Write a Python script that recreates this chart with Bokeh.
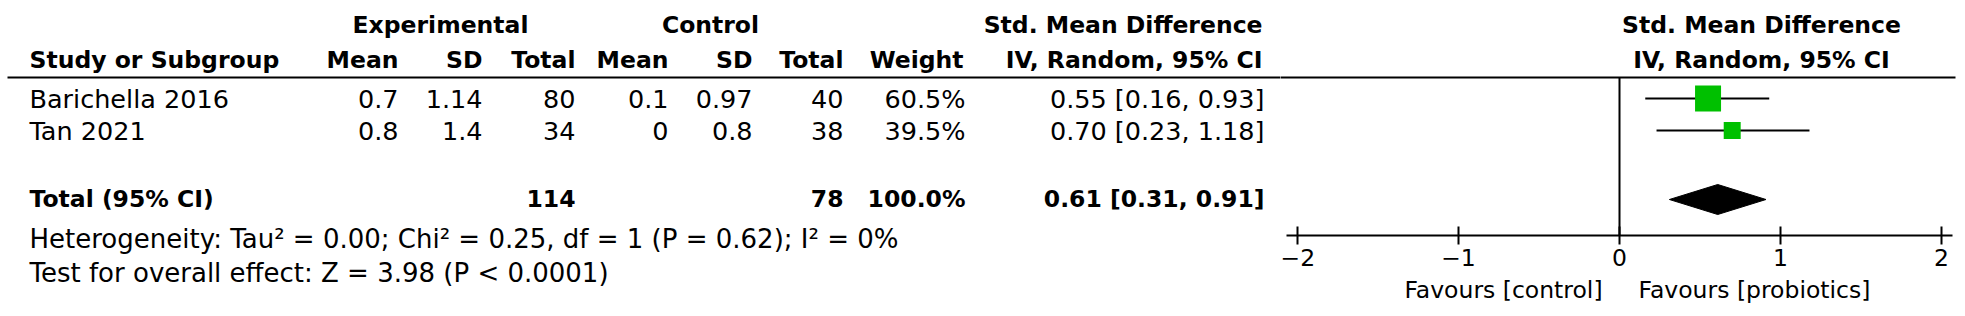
from bokeh.plotting import figure
from bokeh.layouts import row
from bokeh.models import Range1d, LinearAxis, FixedTicker, ColumnDataSource
from bokeh.embed import file_html
from bokeh.resources import INLINE
from bokeh.core.properties import value

# ---------------- data ----------------
studies = ["Barichella 2016", "Tan 2021"]
exp_mean = [0.7, 0.8]
exp_sd = [1.14, 1.4]
exp_n = [80, 34]
ctl_mean = [0.1, 0]
ctl_sd = [0.97, 0.8]
ctl_n = [40, 38]
weight = [60.5, 39.5]
smd = [0.55, 0.70]
smd_lo = [0.16, 0.23]
smd_hi = [0.93, 1.18]

total_label = "Total (95% CI)"
total_exp_n = 114
total_ctl_n = 78
total_weight = 100.0
total_smd = 0.61
total_lo = 0.31
total_hi = 0.91

heterogeneity = "Heterogeneity: Tau² = 0.00; Chi² = 0.25, df = 1 (P = 0.62); I² = 0%"
overall = "Test for overall effect: Z = 3.98 (P < 0.0001)"
favours = ["Favours [control]", "Favours [probiotics]"]
axis_ticks = [-2, -1, 0, 1, 2]
axis_tick_labels = ["−2", "−1", "0", "1", "2"]

# ---------------- layout (pixels) ----------------
TOTAL_W, H = 1965, 316
TW = 1280                      # width of the table part
FW = TOTAL_W - TW              # width of the forest part
AXIS_Y = 235
ZERO_PX, UNIT_PX = 1619, 161
FONT = "DejaVu Sans"
FS = "25.5px"       # regular table text
FSF = "26px"        # footer text
FSB = "23.5px"      # bold table text
FSA = "23.5px"      # axis text

HDR1_Y, HDR2_Y = 24, 59
ROW0_Y, ROW_H = 98, 32
TOTAL_Y = 198
HET_Y, TEST_Y = 238, 272
LINE_Y = 77


def u(px):
    """page pixel -> effect-size units of the forest axis"""
    return (px - ZERO_PX) / UNIT_PX


def txt(fig, x, y, texts, align="left", bold=False, size=None):
    src = ColumnDataSource(dict(x=x, y=y, t=texts))
    fig.text(x="x", y="y", text="t", source=src, text_align=align,
             text_baseline="middle", text_font=value(FONT),
             text_font_size=size or (FSB if bold else FS),
             text_font_style="bold" if bold else "normal", text_color="black")


def base(fig):
    fig.outline_line_color = None
    fig.grid.visible = False
    fig.background_fill_color = "white"
    fig.border_fill_color = "white"


# ================= table figure =================
t = figure(width=TW, height=H, output_backend="svg", toolbar_location=None,
           x_range=Range1d(0, TW), y_range=Range1d(H, 0),
           x_axis_location=None, y_axis_location=None,
           min_border=0, frame_align=False)
base(t)

txt(t, [440, 710], [HDR1_Y] * 2, ["Experimental", "Control"], align="center", bold=True)
txt(t, [1262], [HDR1_Y], ["Std. Mean Difference"], align="right", bold=True)
txt(t, [29], [HDR2_Y], ["Study or Subgroup"], bold=True)
hdr_x = [398, 482, 575, 668, 752, 843, 963, 1262]
txt(t, hdr_x, [HDR2_Y] * len(hdr_x),
    ["Mean", "SD", "Total", "Mean", "SD", "Total", "Weight", "IV, Random, 95% CI"],
    align="right", bold=True)
t.segment(x0=[7], x1=[TW + 1], y0=[LINE_Y], y1=[LINE_Y], line_color="black", line_width=2)

n = len(studies)
row_y = [ROW0_Y + i * ROW_H for i in range(n)]
txt(t, [29] * n, row_y, studies)
cols = [
    (398, [str(v) for v in exp_mean]),
    (482, [str(v) for v in exp_sd]),
    (575, [str(v) for v in exp_n]),
    (668, [str(v) for v in ctl_mean]),
    (752, [str(v) for v in ctl_sd]),
    (843, [str(v) for v in ctl_n]),
    (965, [f"{w:.1f}%" for w in weight]),
    (1264, [f"{s:.2f} [{l:.2f}, {h:.2f}]" for s, l, h in zip(smd, smd_lo, smd_hi)]),
]
for cx, vals in cols:
    txt(t, [cx] * n, row_y, vals, align="right")

txt(t, [29], [TOTAL_Y], [total_label], bold=True)
txt(t, [575, 843, 965, 1264], [TOTAL_Y] * 4,
    [str(total_exp_n), str(total_ctl_n), f"{total_weight:.1f}%",
     f"{total_smd:.2f} [{total_lo:.2f}, {total_hi:.2f}]"], align="right", bold=True)
txt(t, [29, 29], [HET_Y, TEST_Y], [heterogeneity, overall], size=FSF)

# ================= forest figure =================
f = figure(width=FW, height=H, output_backend="svg", toolbar_location=None,
           x_range=Range1d(u(TW), u(TOTAL_W)), y_range=Range1d(AXIS_Y, 0),
           x_axis_location=None, y_axis_location=None,
           min_border_left=0, min_border_right=0, min_border_top=0,
           min_border_bottom=H - AXIS_Y, frame_align=False)
base(f)

txt(f, [u(1761), u(1761)], [HDR1_Y, HDR2_Y],
    ["Std. Mean Difference", "IV, Random, 95% CI"], align="center", bold=True)
f.segment(x0=[u(TW - 1)], x1=[u(1955)], y0=[LINE_Y], y1=[LINE_Y],
          line_color="black", line_width=2)

# line of no effect
f.segment(x0=[0], x1=[0], y0=[LINE_Y], y1=[AXIS_Y], line_color="black", line_width=2)
# confidence intervals and point estimates
f.segment(x0=smd_lo, x1=smd_hi, y0=row_y, y1=row_y, line_color="black", line_width=2)
sq_size = [26 * w / weight[0] for w in weight]
f.scatter(x=smd, y=row_y, size=sq_size, marker="square",
          fill_color="#00C000", line_color="#00C000", line_width=0)
# pooled diamond
DH = 15
f.patch(x=[total_lo, total_smd, total_hi, total_smd],
        y=[TOTAL_Y + 1, TOTAL_Y + 1 - DH, TOTAL_Y + 1, TOTAL_Y + 1 + DH],
        fill_color="black", line_color="black")

axis = LinearAxis(ticker=FixedTicker(ticks=axis_ticks), bounds=(-2.07, 2.07))
axis.major_label_overrides = {tk: lb for tk, lb in zip(axis_ticks, axis_tick_labels)}
axis.major_tick_in = 9
axis.major_tick_out = 9
axis.minor_tick_line_color = None
axis.axis_line_width = 2
axis.major_tick_line_width = 2
axis.major_label_standoff = 4
axis.major_label_text_font = FONT
axis.major_label_text_font_size = FSA
axis.major_label_text_color = "black"
f.add_layout(axis, "below")

# "Favours" captions as a second, line-less axis under the first
fav_pos = [u(1503), u(1754)]
fav_axis = LinearAxis(ticker=FixedTicker(ticks=fav_pos))
fav_axis.major_label_overrides = {tk: lb for tk, lb in zip(fav_pos, favours)}
fav_axis.axis_line_color = None
fav_axis.major_tick_line_color = None
fav_axis.minor_tick_line_color = None
fav_axis.major_tick_in = 0
fav_axis.major_tick_out = 0
fav_axis.major_label_standoff = 7
fav_axis.major_label_text_font = FONT
fav_axis.major_label_text_font_size = FSA
fav_axis.major_label_text_color = "black"
f.add_layout(fav_axis, "below")

layout = row(t, f, spacing=0)
open("out.html", "w").write(file_html(layout, INLINE))
